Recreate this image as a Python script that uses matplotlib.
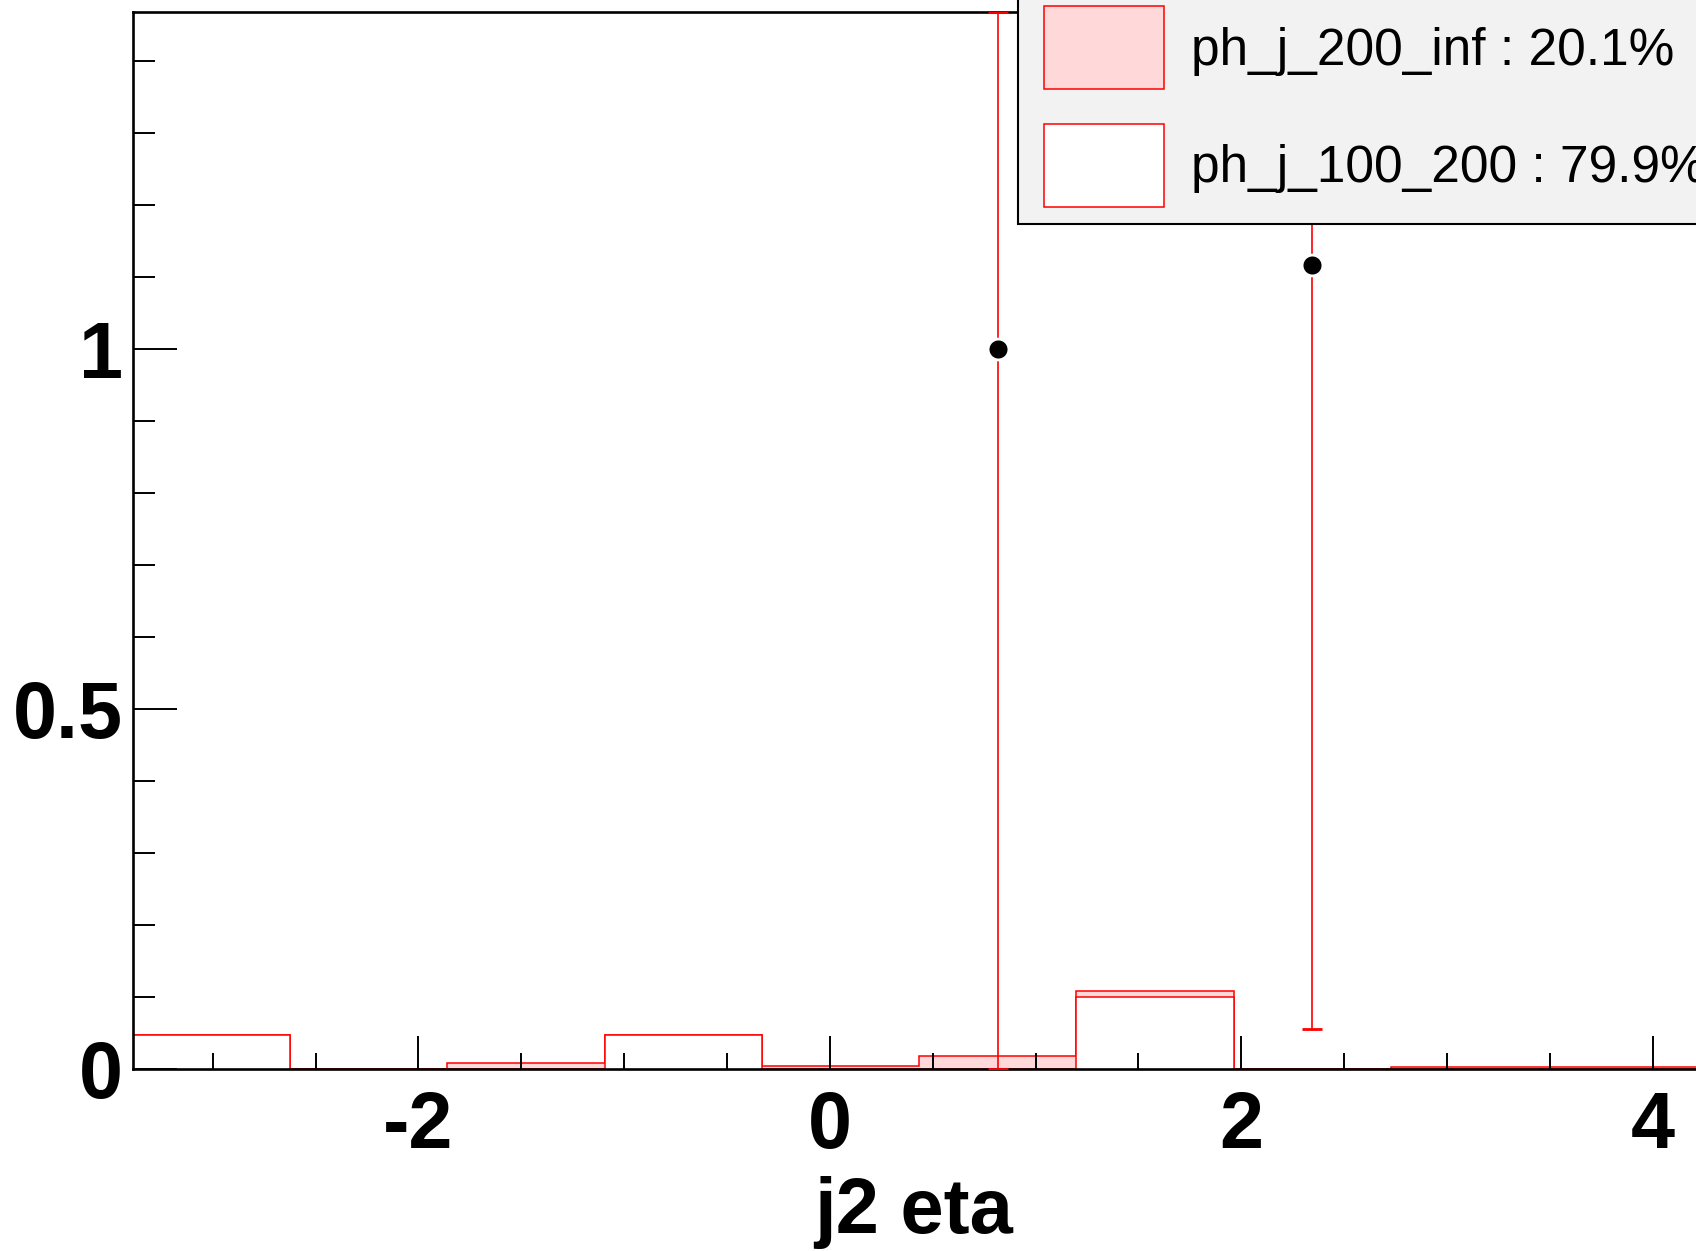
import matplotlib
matplotlib.use('Agg')
import matplotlib.pyplot as plt
from matplotlib.patches import Rectangle
from matplotlib.ticker import MultipleLocator
import numpy as np

plt.rcParams['font.family'] = ['Liberation Sans', 'DejaVu Sans']
plt.rcParams['axes.unicode_minus'] = False

W, H = 1696, 1251  # output size in pixels

# j2 eta binning (10 bins) and the two stacked samples
bin_edges = [-3.388, -2.624, -1.859, -1.095, -0.331, 0.434, 1.198, 1.963, 2.727, 3.491, 4.255]
h_100_200 = [0.047, 0.0, 0.0, 0.047, 0.0, 0.0, 0.100, 0.0, 0.0, 0.0]
h_200_inf = [0.0, 0.0, 0.009, 0.0, 0.004, 0.0185, 0.008, 0.0, 0.003, 0.003]

# data points with (asymmetric, clipped) errors
data_x = [0.816, 2.345]
data_y = [1.0, 1.117]
err_lo = [1.0, 1.062]
err_hi = [0.468, 1.062]

legend_labels = ['ph_j_200_inf : 20.1%', 'ph_j_100_200 : 79.9%']
legend_fills = ['#ffd9d9', 'white']

x_major = [-2, 0, 2, 4]
x_ticklabels = ['-2', '0', '2', '4']
y_major = [0, 0.5, 1]
y_ticklabels = ['0', '0.5', '1']


def fx(px):  # pixel -> figure fraction (x)
    return px / W

def fy(py):  # pixel from top -> figure fraction (y)
    return 1 - py / H


fig = plt.figure(figsize=(W / 100, H / 100), dpi=100)
ax = fig.add_axes([fx(133), fy(1069), (1705 - 133) / W, (1069 - 12) / H])

total = np.array(h_100_200) + np.array(h_200_inf)
# ROOT stack style: draw the sum first, then the lower sample on top of it
ax.stairs(total, bin_edges, fill=True, facecolor='#ffd9d9', edgecolor='red', lw=1.1)
ax.stairs(h_100_200, bin_edges, fill=True, facecolor='white', edgecolor='red', lw=1.1)

ax.errorbar(data_x, data_y, yerr=[err_lo, err_hi], fmt='o', color='black', ms=15,
            mec='white', mew=2, ecolor='red', elinewidth=1.2, capsize=7, capthick=1.2, zorder=3)

ax.set_xlim(bin_edges[0], bin_edges[-1])
ax.set_ylim(0, 1.468)

ax.set_xticks(x_major)
ax.set_xticklabels(x_ticklabels)
ax.set_yticks(y_major)
ax.set_yticklabels(y_ticklabels)
ax.xaxis.set_minor_locator(MultipleLocator(0.5))
ax.yaxis.set_minor_locator(MultipleLocator(0.1))

ax.tick_params(axis='x', which='major', direction='in', length=24, width=1.4, pad=15, labelsize=57)
ax.tick_params(axis='x', which='minor', direction='in', length=11.5, width=1.4)
ax.tick_params(axis='y', which='major', direction='in', length=31.7, width=1.4, pad=7, labelsize=57)
ax.tick_params(axis='y', which='minor', direction='in', length=15.8, width=1.4)
ax.tick_params(top=False, right=False, which='both')
for lab in ax.get_xticklabels() + ax.get_yticklabels():
    lab.set_fontweight('bold')

for sp in ax.spines.values():
    sp.set_linewidth(1.9)

fig.text(fx(914), fy(1233), 'j2 eta', ha='center', va='baseline', fontsize=56, fontweight='bold')

# legend box (runs off the top/right of the canvas like the original)
fig.add_artist(Rectangle((fx(1018), fy(224)), 720 / W, 300 / H, transform=fig.transFigure,
                         facecolor='#f2f2f2', edgecolor='black', lw=1.5, zorder=5))
box_tops = [6, 124]
text_base = [65, 182]
for i in range(2):
    fig.add_artist(Rectangle((fx(1044), fy(box_tops[i] + 83)), 120 / W, 83 / H, transform=fig.transFigure,
                             facecolor=legend_fills[i], edgecolor='red', lw=1.1, zorder=6))
    fig.text(fx(1191), fy(text_base[i]), legend_labels[i], va='baseline', fontsize=37, zorder=6)

fig.savefig('out.png', dpi=100)
